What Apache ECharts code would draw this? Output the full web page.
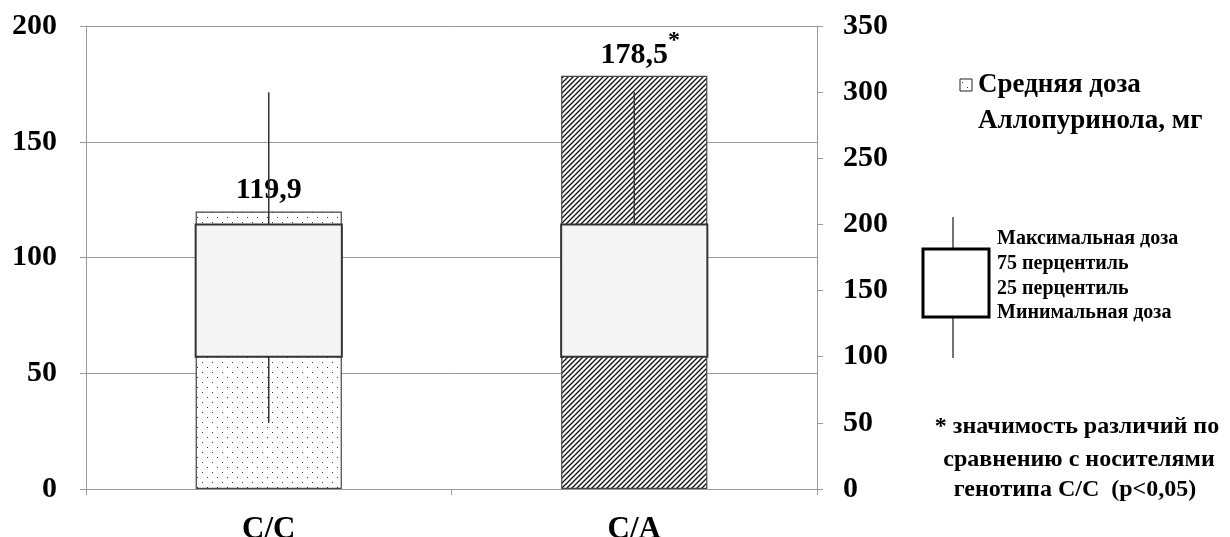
<!DOCTYPE html>
<html>
<head>
<meta charset="utf-8">
<script src="https://cdn.jsdelivr.net/npm/echarts@6/dist/echarts.min.js"></script>
<style>
  html, body { margin: 0; padding: 0; background: #fff; }
  #chart { width: 1230px; height: 537px; }
</style>
</head>
<body>
<div id="chart"></div>
<script>
// Genotype groups
const categories = ['C/C', 'C/A'];
// Mean allopurinol dose, mg (left axis)
const meanDose = [119.9, 178.5];
// Significance marks versus C/C carriers
const significance = ['', '*'];
// Dose distribution per group, mg (right axis)
const doseMin = [50, 100];
const doseQ1 = [100, 100];
const doseQ3 = [200, 200];
const doseMax = [300, 300];
// Axis ticks
const leftTicks = [0, 50, 100, 150, 200];
const rightTicks = [0, 50, 100, 150, 200, 250, 300, 350];

const SERIF = '"Liberation Serif", "Times New Roman", serif';

// Fill patterns: stippled dots and diagonal hatching
function dotPattern() {
  const c = document.createElement('canvas');
  c.width = 10; c.height = 10;
  const g = c.getContext('2d');
  g.fillStyle = '#fff'; g.fillRect(0, 0, 10, 10);
  g.fillStyle = '#333';
  g.fillRect(2, 2, 1, 1);
  g.fillRect(7, 7, 1, 1);
  return c;
}
function hatchPattern() {
  const s = 10, p = 5;
  const c = document.createElement('canvas');
  c.width = s; c.height = s;
  const g = c.getContext('2d');
  g.fillStyle = '#fff'; g.fillRect(0, 0, s, s);
  g.strokeStyle = '#111';
  g.lineWidth = 1.3;
  for (let k = 0; k <= 2 * s; k += p) {
    g.beginPath();
    g.moveTo(k + 1, -1);
    g.lineTo(-1, k + 1);
    g.stroke();
  }
  return c;
}
const dots = dotPattern();
const hatch = hatchPattern();
const fills = [{ image: dots, repeat: 'repeat' }, { image: hatch, repeat: 'repeat' }];

const fmt = v => String(v).replace('.', ',');

const boxData = categories.map((c, i) => [i, doseMin[i], doseQ1[i], doseQ3[i], doseMax[i]]);

const chart = echarts.init(document.getElementById('chart'), null, { renderer: 'canvas' });

const tickLabel = { color: '#000', fontFamily: SERIF, fontWeight: 'bold', fontSize: 30 };

chart.setOption({
  animation: false,
  backgroundColor: '#fff',
  grid: { left: 86, right: 413, top: 26, bottom: 48, outerBoundsMode: 'none' },
  xAxis: {
    type: 'category',
    data: categories,
    axisLine: { lineStyle: { color: '#9a9a9a', width: 1 } },
    axisTick: { show: true, length: 6, lineStyle: { color: '#9a9a9a' } },
    axisLabel: { color: '#000', fontFamily: SERIF, fontWeight: 'bold', fontSize: 31, lineHeight: 32, margin: 25 }
  },
  yAxis: [
    {
      type: 'value', min: 0, max: 200, interval: 50, position: 'left',
      axisLine: { show: true, lineStyle: { color: '#9a9a9a' } },
      axisTick: { show: true, length: 6, lineStyle: { color: '#9a9a9a' } },
      splitLine: { show: true, lineStyle: { color: '#9a9a9a', width: 1 } },
      axisLabel: Object.assign({ margin: 29, customValues: leftTicks }, tickLabel)
    },
    {
      type: 'value', min: 0, max: 350, interval: 50, position: 'right',
      axisLine: { show: true, lineStyle: { color: '#9a9a9a' } },
      axisTick: { show: true, length: 6, lineStyle: { color: '#9a9a9a' } },
      splitLine: { show: false },
      axisLabel: Object.assign({ margin: 26, customValues: rightTicks }, tickLabel)
    }
  ],
  series: [
    {
      name: 'Средняя доза Аллопуринола, мг',
      type: 'bar',
      yAxisIndex: 0,
      barWidth: '40%',
      data: meanDose.map((v, i) => ({
        value: v,
        itemStyle: { color: fills[i], borderColor: '#444', borderWidth: 1.2 }
      })),
      label: {
        show: true,
        position: 'top',
        distance: 6,
        formatter: p => significance[p.dataIndex]
          ? '{vm|' + fmt(p.value) + '}{s|' + significance[p.dataIndex] + '}'
          : '{v|' + fmt(p.value) + '}',
        rich: {
          v: { fontFamily: SERIF, fontWeight: 'bold', fontSize: 30, color: '#000', lineHeight: 34, verticalAlign: 'bottom' },
          vm: { fontFamily: SERIF, fontWeight: 'bold', fontSize: 30, color: '#000', lineHeight: 34, verticalAlign: 'bottom', padding: [0, 0, 0, 12] },
          s: { fontFamily: SERIF, fontWeight: 'bold', fontSize: 24, color: '#000', lineHeight: 16, verticalAlign: 'bottom', padding: [0, 0, 17, 0] }
        }
      },
      z: 2
    },
    {
      name: 'Доза',
      type: 'custom',
      yAxisIndex: 1,
      data: boxData,
      encode: { x: 0, y: [1, 2, 3, 4] },
      renderItem: (params, api) => {
        const idx = api.value(0);
        const pMin = api.coord([idx, api.value(1)]);
        const pQ1 = api.coord([idx, api.value(2)]);
        const pQ3 = api.coord([idx, api.value(3)]);
        const pMax = api.coord([idx, api.value(4)]);
        const w = api.size([1, 0])[0] * 0.4;
        const x = pQ3[0];
        const line = { stroke: '#333', lineWidth: 1.5 };
        return {
          type: 'group',
          children: [
            { type: 'line', shape: { x1: x, y1: pQ3[1], x2: x, y2: pMax[1] }, style: line },
            { type: 'line', shape: { x1: x, y1: pQ1[1], x2: x, y2: pMin[1] }, style: line },
            { type: 'rect', shape: { x: x - w / 2, y: pQ3[1], width: w, height: pQ1[1] - pQ3[1] },
              style: { fill: '#f5f5f5', stroke: '#333', lineWidth: 2 } }
          ]
        };
      },
      z: 3
    }
  ],
  graphic: [
    // Mean dose legend
    { type: 'rect', shape: { x: 960, y: 79, width: 12, height: 12 },
      style: { fill: { image: dots, repeat: 'repeat' }, stroke: '#222', lineWidth: 1 } },
    { type: 'text', x: 978, y: 85, style: { text: 'Средняя доза', fill: '#000',
      font: 'bold 27px ' + SERIF, textVerticalAlign: 'middle' } },
    { type: 'text', x: 978, y: 121, style: { text: 'Аллопуринола, мг', fill: '#000',
      font: 'bold 27px ' + SERIF, textVerticalAlign: 'middle' } },
    // Box key
    { type: 'line', shape: { x1: 953, y1: 217, x2: 953, y2: 358 }, style: { stroke: '#444', lineWidth: 1.5 } },
    { type: 'rect', shape: { x: 923, y: 249, width: 66, height: 68 },
      style: { fill: '#fff', stroke: '#000', lineWidth: 3 } },
    { type: 'text', x: 997, y: 239, style: { text: 'Максимальная доза', fill: '#000',
      font: 'bold 20px ' + SERIF, textVerticalAlign: 'middle' } },
    { type: 'text', x: 997, y: 264, style: { text: '75 перцентиль', fill: '#000',
      font: 'bold 20px ' + SERIF, textVerticalAlign: 'middle' } },
    { type: 'text', x: 997, y: 289, style: { text: '25 перцентиль', fill: '#000',
      font: 'bold 20px ' + SERIF, textVerticalAlign: 'middle' } },
    { type: 'text', x: 997, y: 313, style: { text: 'Минимальная доза', fill: '#000',
      font: 'bold 20px ' + SERIF, textVerticalAlign: 'middle' } },
    // Significance note
    { type: 'text', x: 1077, y: 427, style: { text: '* значимость различий по', fill: '#000',
      font: 'bold 24px ' + SERIF, textAlign: 'center', textVerticalAlign: 'middle' } },
    { type: 'text', x: 1079, y: 460, style: { text: 'сравнению с носителями', fill: '#000',
      font: 'bold 24px ' + SERIF, textAlign: 'center', textVerticalAlign: 'middle' } },
    { type: 'text', x: 1075, y: 490, style: { text: 'генотипа С/С  (р<0,05)', fill: '#000',
      font: 'bold 24px ' + SERIF, textAlign: 'center', textVerticalAlign: 'middle' } }
  ]
});
</script>
</body>
</html>
